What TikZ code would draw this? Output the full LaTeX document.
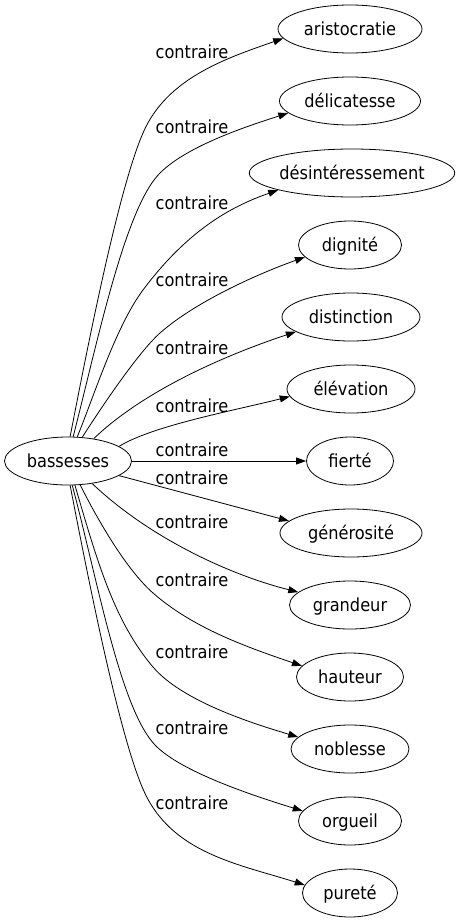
\documentclass[tikz,border=0pt]{standalone}
\usepackage{fontspec}
\setmainfont{DejaVu Sans}[FakeStretch=0.9]
\usetikzlibrary{shapes.geometric,arrows.meta}
\begin{document}
\begin{tikzpicture}[x=1pt,y=-1pt,
  font=\fontsize{18}{20}\selectfont,
  tnode/.style={ellipse, draw, line width=0.8pt, inner sep=0pt, minimum height=48pt, text height=13pt, text depth=0pt},
  lab/.style={inner sep=0pt, text height=13pt, text depth=0pt},
  edge/.style={-{Triangle[length=10pt,width=7pt]}, line width=0.8pt}]
\useasboundingbox (0,0) rectangle (461,923);
% nodes
\node[tnode, minimum width=127pt] (s) at (68,461) {bassesses};
\node[tnode, minimum width=144pt] (t1) at (350,29) {aristocratie};
\node[tnode, minimum width=141pt] (t2) at (350,101) {délicatesse};
\node[tnode, minimum width=204pt] (t3) at (352,173) {désintéressement};
\node[tnode, minimum width=103pt] (t4) at (350,245) {dignité};
\node[tnode, minimum width=138pt] (t5) at (351,317) {distinction};
\node[tnode, minimum width=128pt] (t6) at (351,389) {élévation};
\node[tnode, minimum width=87pt] (t7) at (350,461) {fierté};
\node[tnode, minimum width=142pt] (t8) at (351,533) {générosité};
\node[tnode, minimum width=121pt] (t9) at (350,605) {grandeur};
\node[tnode, minimum width=107pt] (t10) at (350,677) {hauteur};
\node[tnode, minimum width=118pt] (t11) at (350,749) {noblesse};
\node[tnode, minimum width=103pt] (t12) at (350,821) {orgueil};
\node[tnode, minimum width=95pt] (t13) at (350,893) {pureté};
% edges
\draw[edge] (s.85) .. controls (89,339) and (119,188) .. (143,133)
            .. controls (166.6,77.9) and (227,58) .. (t1.188);
\draw[edge] (s.78) .. controls (98,340) and (125,208) .. (160,173)
            .. controls (188,145) and (251,125) .. (t2.191);
\draw[edge] (s.69) .. controls (94,396) and (116,326) .. (143,290)
            .. controls (188,230) and (231,206.5) .. (t3.193);
\draw[edge] (s.59) .. controls (99,411) and (137.5,353) .. (160,333)
            .. controls (197.5,300) and (262.7,272) .. (t4.195);
\draw[edge] (s.41) .. controls (145.5,389) and (229.5,353.7) .. (t5.195);
\draw[edge] (s.16) .. controls (152.6,425.7) and (232.8,410.8) .. (t6.187);
\draw[edge] (s) -- (t7);
\draw[edge] (s.-16) -- (t8.169);
\draw[edge] (s.-43) .. controls (149.6,538) and (230,575) .. (t9.166);
\draw[edge] (s.-63) .. controls (98,520.6) and (126.75,570) .. (153,593)
            .. controls (194,629) and (249.75,648) .. (t10.167);
\draw[edge] (s.-74) .. controls (97.4,561.8) and (114,621) .. (153,667)
            .. controls (182,701) and (251,723) .. (t11.167);
\draw[edge] (s.-80) .. controls (98,582) and (120.6,710.6) .. (156,746)
            .. controls (184,774) and (263,798.6) .. (t12.168);
\draw[edge] (s.-85) .. controls (89,583) and (119,734) .. (143,789)
            .. controls (170.6,853.3) and (238.5,864) .. (t13.170);
% labels
\node[lab] (l1) at (192,52) {contraire};
\node[lab] (l2) at (192,127.5) {contraire};
\node[lab] (l3) at (192,203) {contraire};
\node[lab] (l4) at (192,280) {contraire};
\node[lab] (l5) at (192,348) {contraire};
\node[lab] (l6) at (192,406) {contraire};
\node[lab] (l7) at (192,450) {contraire};
\node[lab] (l8) at (192,478) {contraire};
\node[lab] (l9) at (192,522) {contraire};
\node[lab] (l10) at (192,580) {contraire};
\node[lab] (l11) at (192,652) {contraire};
\node[lab] (l12) at (192,728) {contraire};
\node[lab] (l13) at (192,803) {contraire};
\end{tikzpicture}
\end{document}
